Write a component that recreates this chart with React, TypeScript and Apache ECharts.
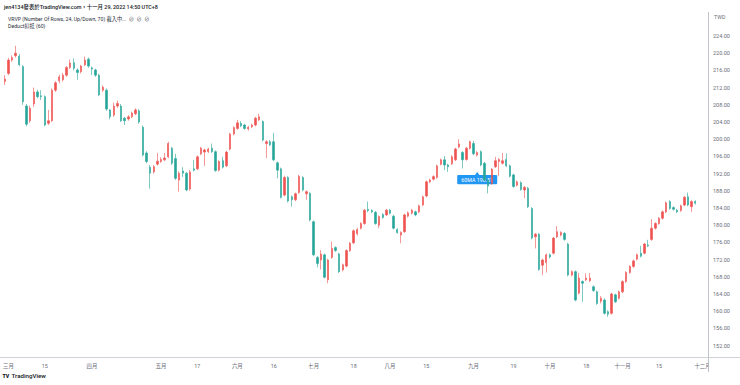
import React, { useEffect, useRef } from 'react';
import * as echarts from 'echarts';

// Trading calendar (TWSE 2022)
const FIRST_DAY = '2022-02-25';
const LAST_DAY = '2022-12-02';
const HOLIDAYS = ['2022-02-28', '2022-04-04', '2022-04-05', '2022-05-02', '2022-06-03', '2022-09-09', '2022-10-10'];

// Daily candles (Feb 25 .. Nov 29)
const opens = [
  213.4, 215.3, 218.4, 219.4, 219.3, 216.9, 207.7, 204.3, 208.2, 211.0,
  210.1, 209.9, 203.7, 204.3, 211.4, 213.6, 213.8, 214.9, 216.7, 217.8,
  216.1, 215.7, 217.3, 218.6, 216.6, 216.1, 214.9, 211.4, 211.4, 206.8,
  205.6, 207.7, 207.7, 204.9, 204.7, 205.2, 205.9, 206.6, 202.8, 196.8,
  193.5, 192.4, 194.2, 194.8, 195.2, 195.9, 197.9, 195.5, 190.5, 192.6,
  192.1, 188.4, 193.1, 193.1, 196.6, 197.0, 197.1, 197.9, 197.1, 192.8,
  195.0, 193.8, 197.7, 201.2, 202.5, 203.7, 203.3, 202.4, 202.9, 203.3,
  204.5, 204.1, 199.0, 199.4, 199.4, 194.5, 193.1, 187.0, 191.1, 186.6,
  185.9, 187.6, 191.1, 187.3, 187.4, 180.8, 172.5, 171.9, 173.1, 167.3,
  172.5, 174.8, 173.3, 169.6, 170.5, 174.1, 175.9, 178.0, 179.3, 180.4,
  183.7, 183.4, 183.0, 180.0, 182.5, 182.4, 183.5, 182.1, 179.0, 177.7,
  178.5, 182.1, 182.8, 183.1, 183.1, 184.7, 186.8, 190.1, 190.7, 191.1,
  194.2, 195.2, 194.0, 194.3, 195.2, 198.2, 196.9, 195.3, 197.9, 199.0,
  196.3, 197.1, 194.4, 190.5, 189.7, 193.6, 194.8, 194.4, 195.3, 193.8,
  191.7, 189.3, 189.9, 188.2, 188.6, 183.9, 177.3, 177.9, 170.7, 171.3,
  173.1, 173.5, 177.3, 177.7, 178.1, 175.6, 168.4, 169.2, 164.2, 166.9,
  167.3, 167.1, 165.7, 164.5, 162.3, 162.6, 159.9, 159.5, 163.8, 163.0,
  164.5, 166.9, 169.0, 170.4, 172.1, 173.5, 173.5, 175.4, 176.7, 179.3,
  180.4, 181.6, 183.1, 185.5, 184.1, 183.5, 183.4, 184.7, 186.6, 184.3,
  185.5,
];
const closes = [
  214.0, 218.4, 219.0, 220.0, 217.3, 208.7, 203.5, 207.2, 211.0, 209.9,
  209.9, 203.3, 204.3, 211.4, 213.1, 214.5, 214.9, 216.7, 217.7, 216.5,
  215.5, 217.0, 218.4, 217.0, 216.3, 214.9, 210.3, 212.1, 207.0, 205.2,
  207.7, 208.3, 204.3, 204.3, 205.2, 206.1, 206.8, 204.0, 196.3, 194.8,
  192.1, 193.6, 194.9, 195.3, 195.6, 199.0, 194.4, 190.9, 192.1, 192.1,
  188.2, 192.4, 192.8, 195.9, 197.9, 197.5, 197.7, 197.1, 192.7, 194.8,
  193.5, 197.0, 201.2, 202.7, 203.8, 203.1, 202.5, 202.8, 203.3, 204.9,
  205.2, 199.8, 199.4, 198.7, 195.2, 192.8, 186.5, 191.1, 185.6, 185.9,
  187.3, 191.4, 188.2, 187.8, 181.2, 173.1, 171.1, 173.3, 167.9, 171.9,
  174.6, 174.1, 169.2, 170.8, 174.1, 175.8, 178.7, 179.0, 180.4, 183.5,
  183.4, 183.1, 180.4, 182.0, 181.8, 183.5, 182.8, 179.3, 178.3, 178.3,
  182.4, 182.9, 183.5, 182.4, 184.5, 186.6, 190.1, 190.5, 191.3, 193.8,
  195.2, 194.0, 193.6, 195.9, 197.7, 198.9, 195.2, 197.9, 199.4, 196.6,
  196.9, 194.0, 190.5, 189.1, 193.0, 195.0, 195.3, 195.0, 193.8, 191.4,
  189.0, 190.1, 188.3, 188.8, 184.3, 177.0, 177.9, 169.7, 171.9, 173.1,
  172.6, 177.0, 178.5, 178.3, 176.7, 168.4, 169.2, 162.6, 167.7, 166.5,
  167.7, 167.7, 164.8, 161.8, 163.0, 159.5, 159.3, 164.0, 162.2, 164.5,
  166.9, 169.0, 170.4, 171.7, 173.1, 172.8, 175.6, 175.2, 179.3, 180.4,
  181.6, 183.1, 185.2, 183.9, 183.7, 183.1, 184.5, 186.5, 184.7, 185.5,
  185.1,
];
const lows = [
  212.6, 214.9, 218.0, 219.0, 217.0, 208.0, 203.0, 203.8, 207.5, 209.5,
  209.1, 203.0, 203.3, 204.0, 211.0, 213.0, 213.4, 214.5, 216.3, 216.0,
  213.8, 215.3, 217.0, 216.6, 214.9, 214.5, 210.0, 211.0, 206.6, 204.6,
  205.2, 207.3, 204.0, 203.3, 204.3, 204.9, 205.6, 203.6, 196.0, 194.4,
  188.5, 192.0, 193.9, 194.5, 194.9, 195.6, 194.0, 190.5, 187.8, 191.2,
  187.9, 188.0, 192.5, 192.8, 196.3, 193.8, 196.8, 196.8, 192.4, 192.5,
  193.2, 193.5, 197.4, 200.9, 202.2, 202.8, 202.2, 202.0, 202.6, 203.0,
  204.2, 199.5, 195.6, 198.4, 194.9, 190.9, 186.2, 186.7, 185.3, 184.3,
  185.6, 187.3, 187.9, 185.9, 180.9, 172.8, 170.2, 169.7, 167.6, 166.5,
  172.2, 173.8, 168.9, 169.3, 170.2, 173.8, 175.6, 177.6, 179.0, 180.1,
  183.0, 182.8, 180.1, 179.3, 181.5, 182.1, 182.5, 179.0, 178.0, 175.8,
  178.2, 181.8, 182.5, 182.1, 182.8, 184.4, 186.5, 189.8, 190.4, 190.8,
  193.9, 192.8, 192.4, 194.0, 194.9, 197.9, 193.2, 195.0, 197.6, 196.3,
  196.0, 193.7, 190.2, 187.4, 189.4, 193.3, 191.4, 194.1, 193.5, 191.1,
  188.7, 189.0, 188.0, 186.3, 184.0, 176.7, 174.6, 169.4, 168.4, 169.0,
  172.3, 173.2, 177.0, 177.4, 176.4, 168.1, 168.1, 162.3, 163.9, 162.2,
  167.0, 166.8, 164.5, 161.5, 161.8, 159.2, 158.7, 159.2, 161.9, 162.7,
  164.2, 166.6, 168.7, 170.1, 171.8, 172.5, 173.2, 174.9, 176.4, 179.0,
  180.1, 181.3, 182.8, 183.6, 183.4, 182.8, 183.1, 184.4, 184.4, 183.1,
  184.8,
];
const highs = [
  214.9, 218.9, 219.5, 221.7, 219.8, 217.2, 208.2, 207.8, 212.0, 211.5,
  211.4, 210.2, 206.8, 211.8, 213.5, 215.0, 215.4, 217.0, 218.5, 218.8,
  216.5, 217.3, 219.2, 219.0, 216.9, 216.4, 215.2, 212.5, 211.8, 207.0,
  208.5, 209.0, 208.2, 205.2, 205.6, 206.4, 207.2, 207.0, 203.2, 197.2,
  194.0, 194.0, 196.8, 195.8, 196.8, 199.4, 198.2, 196.6, 192.5, 193.5,
  192.4, 192.8, 195.2, 196.2, 198.2, 197.8, 198.0, 199.0, 197.4, 195.1,
  195.9, 197.3, 201.5, 203.0, 204.5, 204.2, 203.6, 203.1, 203.6, 205.2,
  205.9, 204.4, 199.8, 199.8, 201.5, 194.8, 193.4, 191.5, 191.4, 186.9,
  187.6, 191.7, 191.4, 188.1, 187.7, 181.1, 172.8, 174.2, 173.4, 172.2,
  176.2, 175.1, 173.6, 171.1, 174.4, 176.1, 179.0, 179.4, 180.7, 183.8,
  185.5, 183.7, 183.3, 182.3, 182.8, 183.8, 183.8, 182.4, 179.3, 178.6,
  182.7, 183.2, 183.8, 183.4, 184.8, 186.9, 190.4, 190.8, 191.6, 194.1,
  195.5, 196.1, 194.3, 196.3, 198.0, 200.0, 197.2, 198.2, 199.7, 199.6,
  197.2, 197.4, 194.7, 190.8, 193.3, 195.9, 195.6, 196.8, 196.7, 194.1,
  192.0, 190.4, 190.2, 189.1, 188.9, 184.2, 178.2, 178.2, 172.2, 173.4,
  173.4, 177.3, 179.8, 178.6, 178.4, 175.9, 169.5, 169.5, 168.9, 167.2,
  168.8, 168.9, 166.0, 164.8, 163.5, 163.0, 160.2, 164.3, 164.1, 164.8,
  167.2, 169.3, 170.7, 172.0, 173.4, 175.2, 175.9, 176.6, 181.4, 180.7,
  181.9, 183.4, 185.5, 185.8, 184.4, 183.8, 184.8, 186.8, 187.6, 185.8,
  185.8,
];

// Time-axis tick labels (TradingView style)
const timeLabels: Record<string, string> = {
  '2022-03-01': '三月', '2022-03-15': '15', '2022-04-01': '四月', '2022-05-03': '五月',
  '2022-05-17': '17', '2022-06-01': '六月', '2022-06-16': '16', '2022-07-01': '七月',
  '2022-07-18': '18', '2022-08-01': '八月', '2022-08-15': '15', '2022-09-01': '九月',
  '2022-09-19': '19', '2022-10-03': '十月', '2022-10-18': '18', '2022-11-01': '十一月',
  '2022-11-15': '15', '2022-12-01': '十二月',
};
const PRICE_MIN = 148;
const PRICE_MAX = 232;
const PRICE_STEP = 4;
const LABEL_LOW = 152;
const LABEL_HIGH = 224;

const NOTE_TEXT = '60MA 190.51';
const NOTE_DATE = '2022-09-02';
const NOTE_PRICE = 190.6;

const HEADER1 = 'jen4134發表於TradingView.com，十一月 29, 2022 14:50 UTC+8';
const HEADER2 = 'VRVP (Number Of Rows, 24, Up/Down, 70) 載入中...  ⊘  ⊘  ⊘';
const HEADER3 = 'Deduct扣抵 (60)';

function tradingDays(start: string, end: string): string[] {
  const out: string[] = [];
  const d = new Date(start + 'T00:00:00Z');
  const e = new Date(end + 'T00:00:00Z');
  while (d <= e) {
    const wd = d.getUTCDay();
    const s = d.toISOString().slice(0, 10);
    if (wd !== 0 && wd !== 6 && !HOLIDAYS.includes(s)) out.push(s);
    d.setUTCDate(d.getUTCDate() + 1);
  }
  return out;
}

const FONT = 'Roboto, "Noto Sans CJK TC", sans-serif';
const UP = '#ef5350';
const DOWN = '#26a69a';

export default function App() {
  const ref = useRef<HTMLDivElement>(null);
  useEffect(() => {
    if (!ref.current) return;
    const chart = echarts.init(ref.current, undefined, { renderer: 'svg' });
    const dates = tradingDays(FIRST_DAY, LAST_DAY);
    const candles = opens.map((o, i) => [o, closes[i], lows[i], highs[i]]);
    chart.setOption({
      animation: false,
      backgroundColor: '#ffffff',
      grid: { left: 1, right: 32, top: 1.6, height: 361.2, containLabel: false },
      xAxis: {
        type: 'category',
        data: dates,
        boundaryGap: true,
        axisLine: { show: false },
        axisTick: { show: false },
        splitLine: { show: false },
        axisLabel: {
          interval: (_i: number, v: string) => timeLabels[v] !== undefined,
          formatter: (v: string) => timeLabels[v] ?? '',
          fontSize: 5.4,
          color: '#6a6d78',
          fontFamily: FONT,
          margin: 0,
          hideOverlap: false,
        },
      },
      yAxis: {
        type: 'value',
        position: 'right',
        min: PRICE_MIN,
        max: PRICE_MAX,
        interval: PRICE_STEP,
        scale: true,
        axisLine: { show: false },
        axisTick: { show: false },
        splitLine: { show: false },
        axisLabel: {
          formatter: (v: number) => (v >= LABEL_LOW && v <= LABEL_HIGH ? v.toFixed(2) : ''),
          fontSize: 5.5,
          color: '#6a6d78',
          fontFamily: FONT,
          margin: 5,
        },
      },
      series: [
        {
          type: 'candlestick',
          data: candles,
          barWidth: 1.9,
          z: 2,
          itemStyle: {
            color: UP,
            color0: DOWN,
            borderColor: UP,
            borderColor0: DOWN,
            borderColorDoji: UP,
            borderWidth: 0.6,
          },
        },
      ],
    });
    const [nx, ny] = chart.convertToPixel({ gridIndex: 0 }, [NOTE_DATE, NOTE_PRICE]) as number[];
    chart.setOption({
      graphic: [
        { type: 'rect', z: 20, shape: { x: 709, y: 358.5, width: 31, height: 26.5 }, style: { fill: '#ffffff' } },
        { type: 'line', z: 21, shape: { x1: 708.5, y1: 12, x2: 708.5, y2: 372 }, style: { stroke: '#b2b5be', lineWidth: 0.8 } },
        { type: 'line', z: 21, shape: { x1: 0, y1: 357.5, x2: 740, y2: 357.5 }, style: { stroke: '#c4c7cf', lineWidth: 0.8 } },
        { type: 'text', z: 22, x: 714, y: 17, style: { text: 'TWD', fontSize: 5.3, fill: '#6a6d78', fontFamily: FONT, verticalAlign: 'middle' } },
        { type: 'text', z: 22, x: 4, y: 6.7, style: { text: HEADER1, fontSize: 5.4, fontWeight: 500, fill: '#131722', fontFamily: FONT, verticalAlign: 'middle' } },
        { type: 'text', z: 22, x: 8, y: 19, style: { text: HEADER2, fontSize: 5.2, fill: '#2a2e39', fontFamily: FONT, verticalAlign: 'middle' } },
        { type: 'text', z: 22, x: 8, y: 25.8, style: { text: HEADER3, fontSize: 5.2, fill: '#2a2e39', fontFamily: FONT, verticalAlign: 'middle' } },
        { type: 'text', z: 22, x: 2.5, y: 376, style: { text: 'TV', fontSize: 5.2, fontWeight: 900, fill: '#131722', fontFamily: FONT, verticalAlign: 'middle' } },
        { type: 'text', z: 22, x: 11.5, y: 376, style: { text: 'TradingView', fontSize: 6.2, fontWeight: 500, fill: '#131722', fontFamily: FONT, verticalAlign: 'middle' } },
        { type: 'rect', z: 1, shape: { x: nx - 20, y: ny - 4.7, width: 40, height: 9.4, r: 1.2 }, style: { fill: '#2196f3' } },
        { type: 'polygon', z: 1, shape: { points: [[nx - 2.2, ny - 4.6], [nx + 2.2, ny - 4.6], [nx, ny - 7.6]] }, style: { fill: '#2196f3' } },
        { type: 'text', z: 1, x: nx, y: ny, style: { text: NOTE_TEXT, fontSize: 5.3, fill: '#ffffff', fontFamily: FONT, align: 'center', verticalAlign: 'middle' } },
      ],
    });
    return () => chart.dispose();
  }, []);
  return <div ref={ref} style={{ position: 'absolute', left: 0, top: 0, width: 740, height: 385 }} />;
}
